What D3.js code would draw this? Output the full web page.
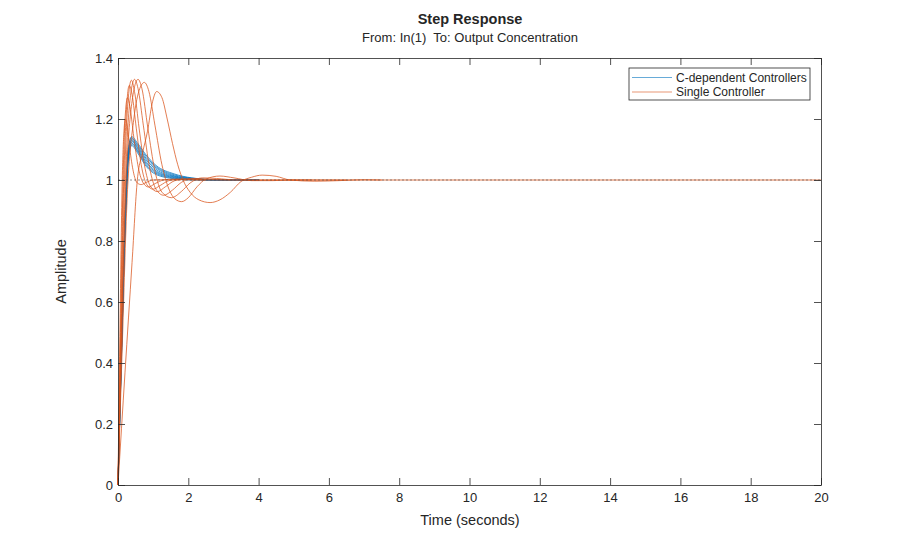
<!DOCTYPE html>
<html>
<head>
<meta charset="utf-8">
<script src="https://cdn.jsdelivr.net/npm/d3@7"></script>
<style>
  body { margin: 0; background: #fff; }
  svg { font-family: "Liberation Sans", Arial, sans-serif; }
</style>
</head>
<body>
<svg id="chart" width="908" height="546"></svg>
<script>
// ---- data (time in s, amplitude) ----
const xTicks = [0, 2, 4, 6, 8, 10, 12, 14, 16, 18, 20];
const yTicks = [0, 0.2, 0.4, 0.6, 0.8, 1, 1.2, 1.4];
const legendLabels = ["C-dependent Controllers", "Single Controller"];

// C-dependent controllers (blue)
const blueCurves = [
  [[0,0],[0.1,0.46],[0.2,0.87],[0.3,1.11],[0.39,1.142],[0.55,1.122],[0.8,1.082],[1.08,1.048],[1.6,1.02],[2.1,1.007],[2.8,1.001],[4,1]],
  [[0,0],[0.1,0.45],[0.2,0.86],[0.3,1.10],[0.38,1.138],[0.55,1.117],[0.8,1.077],[1.08,1.044],[1.6,1.017],[2.1,1.006],[2.8,1.001],[4,1]],
  [[0,0],[0.1,0.45],[0.2,0.85],[0.3,1.10],[0.4,1.134],[0.55,1.113],[0.8,1.071],[1.08,1.04],[1.6,1.014],[2.1,1.005],[2.8,1.0],[4,1]],
  [[0,0],[0.1,0.44],[0.2,0.85],[0.3,1.09],[0.39,1.13],[0.55,1.108],[0.8,1.066],[1.08,1.035],[1.6,1.012],[2.1,1.004],[2.8,1.0],[4,1]],
  [[0,0],[0.1,0.44],[0.2,0.84],[0.3,1.09],[0.4,1.126],[0.55,1.104],[0.8,1.06],[1.08,1.03],[1.6,1.01],[2.1,1.003],[2.8,1.0],[4,1]],
  [[0,0],[0.1,0.43],[0.2,0.84],[0.3,1.08],[0.38,1.122],[0.55,1.099],[0.8,1.055],[1.08,1.026],[1.6,1.008],[2.1,1.002],[2.8,1.0],[4,1]],
  [[0,0],[0.1,0.43],[0.2,0.83],[0.3,1.08],[0.4,1.118],[0.55,1.095],[0.8,1.05],[1.08,1.022],[1.6,1.006],[2.1,1.001],[2.8,1.0],[4,1]],
  [[0,0],[0.1,0.42],[0.2,0.83],[0.3,1.07],[0.39,1.113],[0.55,1.09],[0.8,1.045],[1.08,1.018],[1.6,1.004],[2.1,1.0],[2.8,1.0],[4,1]]
];

// single controller (orange)
const orangeCurves = [
  [[0,0],[0.06,0.55],[0.12,1.0],[0.17,1.16],[0.21,1.2],[0.26,1.18],[0.35,1.09],[0.45,1.02],[0.55,0.99],[0.66,0.985],[0.8,0.992],[1.0,1.0],[1.3,1.001],[1.8,1.0]],
  [[0,0],[0.07,0.5],[0.14,0.98],[0.2,1.2],[0.27,1.27],[0.34,1.24],[0.45,1.14],[0.58,1.04],[0.72,0.99],[0.87,0.977],[1.05,0.988],[1.3,1.0],[1.6,1.003],[2.1,1.0],[20,1.0]],
  [[0,0],[0.08,0.5],[0.16,0.98],[0.24,1.23],[0.32,1.31],[0.4,1.28],[0.52,1.17],[0.66,1.05],[0.82,0.985],[1.0,0.97],[1.2,0.982],[1.45,0.998],[1.8,1.003],[2.4,1.0]],
  [[0,0],[0.09,0.5],[0.18,0.97],[0.28,1.25],[0.38,1.327],[0.47,1.29],[0.6,1.17],[0.75,1.05],[0.92,0.98],[1.12,0.962],[1.35,0.978],[1.6,0.997],[1.95,1.004],[2.5,1.0]],
  [[0,0],[0.1,0.5],[0.2,0.95],[0.33,1.25],[0.47,1.33],[0.57,1.3],[0.72,1.18],[0.9,1.04],[1.08,0.97],[1.3,0.95],[1.55,0.967],[1.8,0.992],[2.15,1.005],[2.6,1.002],[3.2,1.0]],
  [[0,0],[0.1,0.48],[0.22,0.96],[0.38,1.24],[0.57,1.33],[0.68,1.3],[0.85,1.17],[1.05,1.03],[1.25,0.96],[1.52,0.942],[1.8,0.962],[2.05,0.99],[2.4,1.007],[2.8,1.005],[3.4,1.0],[5.5,1.0]],
  [[0,0],[0.12,0.45],[0.26,0.94],[0.45,1.2],[0.62,1.3],[0.75,1.32],[0.88,1.29],[1.05,1.18],[1.25,1.05],[1.45,0.97],[1.62,0.938],[1.81,0.929],[2.0,0.942],[2.25,0.978],[2.5,1.003],[2.9,1.013],[3.3,1.007],[3.8,0.998],[4.4,0.998],[5.0,1.0],[6.5,1.0]],
  [[0,0],[0.2,0.37],[0.4,0.73],[0.55,1.0],[0.7,1.09],[0.84,1.16],[0.97,1.25],[1.1,1.29],[1.25,1.27],[1.4,1.2],[1.55,1.12],[1.7,1.05],[1.85,1.0],[2.05,0.96],[2.3,0.935],[2.62,0.926],[2.9,0.935],[3.2,0.96],[3.5,0.995],[3.8,1.009],[4.1,1.016],[4.5,1.012],[4.9,1.0],[5.6,0.996],[6.3,0.998],[7.0,1.001],[7.5,1.0]]
];

// ---- layout ----
const svg = d3.select("#chart");
const margin = { top: 58, right: 87, bottom: 61, left: 118 };
const width = 908 - margin.left - margin.right;
const height = 546 - margin.top - margin.bottom;
const ink = "#262626";
const blue = "#0072BD";
const orange = "#D95319";

const g = svg.append("g")
  .attr("transform", `translate(${margin.left},${margin.top})`);

const x = d3.scaleLinear().domain([0, 20]).range([0, width]);
const y = d3.scaleLinear().domain([0, 1.4]).range([height, 0]);

const line = d3.line()
  .x(d => x(d[0]))
  .y(d => y(d[1]))
  .curve(d3.curveMonotoneX);

// curves: blue first, orange on top
g.append("g").selectAll("path")
  .data(blueCurves)
  .enter().append("path")
  .attr("d", line)
  .attr("fill", "none")
  .attr("stroke", blue)
  .attr("stroke-width", 0.75);

g.append("g").selectAll("path")
  .data(orangeCurves)
  .enter().append("path")
  .attr("d", line)
  .attr("fill", "none")
  .attr("stroke", orange)
  .attr("stroke-width", 0.75);

// steady state dotted line
g.append("line")
  .attr("x1", x(0)).attr("x2", x(20))
  .attr("y1", y(1)).attr("y2", y(1))
  .attr("stroke", "#4d4d4d")
  .attr("stroke-width", 0.6)
  .attr("stroke-dasharray", "2,2");

// axes (inward ticks on all four sides)
const fmt = d => String(d);
const axBottom = g.append("g")
  .attr("transform", `translate(0,${height})`)
  .call(d3.axisBottom(x).tickValues(xTicks).tickFormat(fmt).tickSize(-7).tickSizeOuter(0).tickPadding(8));
const axTop = g.append("g")
  .call(d3.axisTop(x).tickValues(xTicks).tickFormat("").tickSize(-7).tickSizeOuter(0));
const axLeft = g.append("g")
  .call(d3.axisLeft(y).tickValues(yTicks).tickFormat(fmt).tickSize(-7).tickSizeOuter(0).tickPadding(5));
const axRight = g.append("g")
  .attr("transform", `translate(${width},0)`)
  .call(d3.axisRight(y).tickValues(yTicks).tickFormat("").tickSize(-7).tickSizeOuter(0));

[axBottom, axTop, axLeft, axRight].forEach(a => {
  a.selectAll("path, line").attr("stroke", ink).attr("stroke-width", 0.8);
  a.selectAll("text").attr("fill", ink).style("font-size", "13px");
});

// titles and labels
svg.append("text")
  .attr("x", 470).attr("y", 24)
  .attr("text-anchor", "middle")
  .style("font-size", "14.5px").style("font-weight", "bold")
  .attr("fill", ink)
  .text("Step Response");

svg.append("text")
  .attr("x", 470).attr("y", 42)
  .attr("text-anchor", "middle")
  .style("font-size", "13px")
  .style("white-space", "pre")
  .attr("fill", ink)
  .text("From: In(1)  To: Output Concentration");

svg.append("text")
  .attr("x", 470).attr("y", 525)
  .attr("text-anchor", "middle")
  .style("font-size", "14.5px")
  .attr("fill", ink)
  .text("Time (seconds)");

svg.append("text")
  .attr("transform", `translate(66,${margin.top + height / 2}) rotate(-90)`)
  .attr("text-anchor", "middle")
  .style("font-size", "14.5px")
  .attr("fill", ink)
  .text("Amplitude");

// legend
const legend = svg.append("g").attr("transform", "translate(629,68)");
legend.append("rect")
  .attr("width", 181).attr("height", 32)
  .attr("fill", "#fff")
  .attr("stroke", ink)
  .attr("stroke-width", 0.8);

const entry = legend.selectAll("g.entry")
  .data(legendLabels)
  .enter().append("g")
  .attr("class", "entry")
  .attr("transform", (d, i) => `translate(0,${9.5 + i * 14.5})`);

entry.append("line")
  .attr("x1", 3).attr("x2", 43)
  .attr("stroke", (d, i) => i === 0 ? blue : orange)
  .attr("stroke-width", 0.6);

entry.append("text")
  .attr("x", 47).attr("y", 4)
  .style("font-size", "12px")
  .attr("fill", ink)
  .text(d => d);
</script>
</body>
</html>
